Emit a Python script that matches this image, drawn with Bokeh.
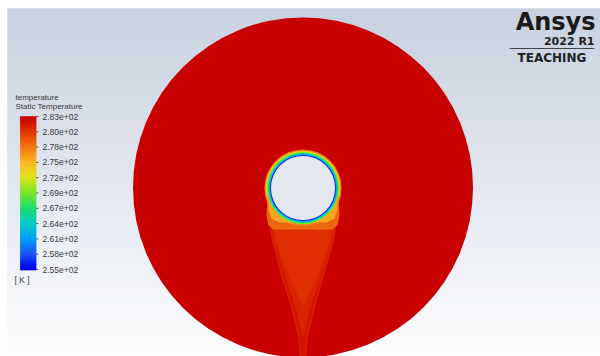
from bokeh.plotting import figure
from bokeh.models import ColumnDataSource, Range1d, LinearColorMapper
from bokeh.core.properties import value
from bokeh.embed import file_html
from bokeh.resources import INLINE
import numpy as np

# ---------------- data ----------------
t_min, t_max = 255.0, 283.0
tick_labels = ["2.83e+02", "2.80e+02", "2.78e+02", "2.75e+02", "2.72e+02", "2.69e+02",
               "2.67e+02", "2.64e+02", "2.61e+02", "2.58e+02", "2.55e+02"]
legend_title = ["temperature", "Static Temperature"]
unit_label = "[ K ]"

# domain geometry (pixel space of the screenshot)
domain_cx, domain_cy, domain_r = [302.5], [187.0], [170.0]
far_field_T = [283.0]

# thermal ring around the cylinder: radii and temperatures (outer -> inner)
ring_r_outer = [38.6, 37.4]
ring_T_outer = [277.5, 273.0]
ring_r_inner = [36.2, 35.3, 34.4, 33.6, 33.0]
ring_T_inner = [269.0, 266.5, 263.0, 259.5, 256.0]
hole_r = [32.1]

# wake blobs below the cylinder
wake_orange_x = [267, 338, 339, 337, 332, 273, 268, 266]
wake_orange_y = [196, 196, 215, 225, 229, 229, 225, 215]
wake_orange_T = 277.5
wake_yellow_x = [268, 337, 337, 334, 326, 279, 271, 268]
wake_yellow_y = [196, 196, 210, 218, 222, 222, 218, 210]
wake_yellow_T = 275.0

# plume: three nested layers, outer (long) to inner (short)
plume_layers_x = [
    [270, 335, 333, 322, 313, 307, 305, 300, 298, 292, 282, 272],
    [271, 334, 331, 319, 309, 303.5, 301.5, 296, 286, 274],
    [273, 332, 328, 315, 303, 290, 277],
]
plume_layers_y = [
    [227, 227, 240, 278, 310, 335, 356, 356, 335, 310, 278, 240],
    [227, 227, 242, 280, 310, 336, 336, 310, 280, 242],
    [227, 227, 245, 280, 306, 280, 245],
]
plume_layers_T = [280.6, 280.2, 280.0]

# ---------------- colour map ----------------
stops = [(0.00, (0, 0, 255)), (0.10, (25, 90, 255)), (0.20, (0, 160, 245)),
         (0.30, (0, 205, 200)), (0.40, (30, 220, 110)), (0.50, (120, 230, 40)),
         (0.60, (220, 228, 25)), (0.70, (250, 185, 35)), (0.80, (245, 120, 20)),
         (0.90, (228, 55, 0)), (1.00, (200, 0, 0))]
sp = np.array([s[0] for s in stops])
sc = np.array([s[1] for s in stops], dtype=float)
palette = []
for f in np.linspace(0, 1, 256):
    rgb = [int(round(np.interp(f, sp, sc[:, k]))) for k in range(3)]
    palette.append("#%02x%02x%02x" % tuple(rgb))
mapper = LinearColorMapper(palette=palette, low=t_min, high=t_max)
cmap = {"field": "T", "transform": mapper}

def col(T):
    return palette[int(round((T - t_min) / (t_max - t_min) * 255))]

W, H = 600, 356
p = figure(width=W, height=H, output_backend="svg", toolbar_location=None,
           x_range=Range1d(0, W), y_range=Range1d(H, 0),
           x_axis_location=None, y_axis_location=None, min_border=0)
p.grid.visible = False
p.outline_line_color = None
p.background_fill_color = "white"
p.border_fill_color = "white"

# background gradient
top_c = np.array([200, 208, 224.0])
bot_c = np.array([252, 253, 254.0])
ys = np.arange(8, 356, 4)

def bg_at(yv):
    f = (yv - 8) / (356 - 8)
    c = top_c + (bot_c - top_c) * f
    return "#%02x%02x%02x" % tuple(int(round(v)) for v in c)

bg_cols = [bg_at(yv + 2) for yv in ys]
p.quad(left=7, right=600, top=ys, bottom=ys + 4.6, fill_color=bg_cols, line_color=bg_cols, line_width=0.5)

# domain
p.circle(x="x", y="y", radius="r",
         source=ColumnDataSource(dict(x=domain_cx, y=domain_cy, r=domain_r, T=far_field_T)),
         fill_color=cmap, line_color=None)

# plume
p.patches(xs="xs", ys="ys",
          source=ColumnDataSource(dict(xs=plume_layers_x, ys=plume_layers_y, T=plume_layers_T)),
          fill_color=cmap, fill_alpha=0.45, line_color=None)
ox, oy = plume_layers_x[0], plume_layers_y[0]
p.line(x=[ox[0], ox[11], ox[10], ox[9], ox[8], ox[7]], y=[oy[0], oy[11], oy[10], oy[9], oy[8], oy[7]],
       line_color=col(279.0), line_alpha=0.3, line_width=1.5)
p.line(x=ox[1:7], y=oy[1:7], line_color=col(279.0), line_alpha=0.3, line_width=1.5)

# outer ring
p.circle(x="x", y="y", radius="r",
         source=ColumnDataSource(dict(x=[domain_cx[0]] * 2, y=[187.5] * 2, r=ring_r_outer, T=ring_T_outer)),
         fill_color=cmap, line_color=None)
# wake blobs
p.patch(x=wake_orange_x, y=wake_orange_y, fill_color=col(wake_orange_T), fill_alpha=0.85, line_color=None)
p.patch(x=wake_yellow_x, y=wake_yellow_y, fill_color=col(wake_yellow_T), fill_alpha=0.85, line_color=None)
# inner ring
p.circle(x="x", y="y", radius="r",
         source=ColumnDataSource(dict(x=[domain_cx[0]] * 5, y=[187.5] * 5, r=ring_r_inner, T=ring_T_inner)),
         fill_color=cmap, line_color=None)
p.circle(x=[domain_cx[0]], y=[187.5], radius=hole_r, fill_color=bg_at(187.5), line_color=None)

# colour bar
bar_top, bar_bot = 116.0, 269.0
nstrip = 120
edges = np.linspace(bar_top, bar_bot, nstrip + 1)
strip_T = np.linspace(t_max, t_min, nstrip)
p.quad(left=20, right=35.5, top="t", bottom="b",
       source=ColumnDataSource(dict(t=edges[:-1], b=edges[1:] + 0.6, T=strip_T)),
       fill_color=cmap, line_color=cmap, line_width=0.6)
tick_y = np.linspace(bar_top, bar_bot, len(tick_labels))
p.segment(x0=35.5, x1=38, y0=tick_y, y1=tick_y, line_color="#555555", line_width=1)
p.text(x=[42] * len(tick_labels), y=list(tick_y), text=tick_labels,
       text_font=value("Liberation Sans"), text_font_size="8.5px", text_color="#3a3a3a",
       text_baseline="middle", text_align="left")
p.text(x=[15, 15], y=[97, 106], text=legend_title, text_font=value("Liberation Sans"),
       text_font_size="8px", text_color="#3a3a3a", text_baseline="middle")
p.text(x=[14], y=[279.5], text=[unit_label], text_font=value("Liberation Sans"),
       text_font_size="8.5px", text_color="#3a3a3a", text_baseline="middle")

# logo
p.text(x=[595], y=[21.5], text=["Ansys"], text_font=value("DejaVu Sans"), text_font_style="bold",
       text_font_size="24px", text_color="#1a1a1a", text_baseline="middle", text_align="right")
p.text(x=[594], y=[40.5], text=["2022 R1"], text_font=value("DejaVu Sans"), text_font_style="bold",
       text_font_size="11px", text_color="#222222", text_baseline="middle", text_align="right")
p.segment(x0=[509], x1=[594], y0=[48], y1=[48], line_color="#444444", line_width=1)
p.text(x=[551.5], y=[57.5], text=["TEACHING"], text_font=value("DejaVu Sans"), text_font_style="bold",
       text_font_size="12px", text_color="#222222", text_baseline="middle", text_align="center")

open("out.html", "w").write(file_html(p, INLINE))
